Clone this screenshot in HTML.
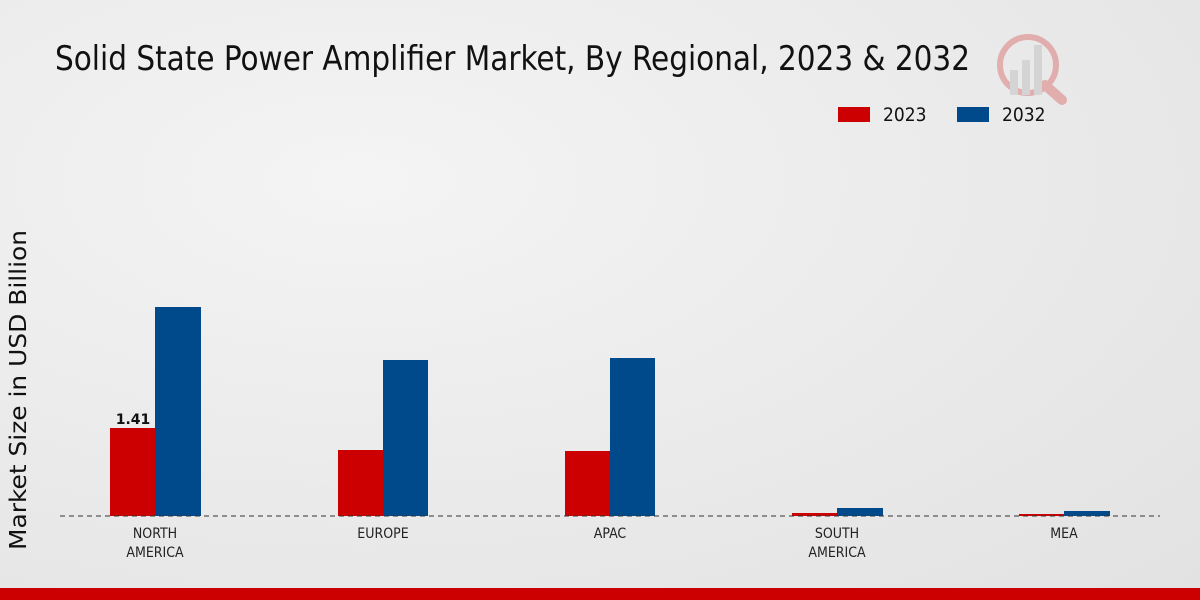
<!DOCTYPE html>
<html><head><style>
html,body{margin:0;padding:0;width:1200px;height:600px;overflow:hidden}
body{background:radial-gradient(ellipse at 30% 30%,#f4f4f4 0%,#e9e9e9 60%,#e2e2e2 100%);}
</style></head><body>
<svg width="1200" height="600" xmlns="http://www.w3.org/2000/svg" style="position:absolute;left:0;top:0">
<text x="55" y="70" font-family="DejaVu Sans Condensed, DejaVu Sans, sans-serif" font-size="34" fill="#111" textLength="915" lengthAdjust="spacingAndGlyphs">Solid State Power Amplifier Market, By Regional, 2023 &amp; 2032</text>
<g opacity="0.25">
<circle cx="1028" cy="65" r="28" fill="none" stroke="#c00" stroke-width="6"/>
<line x1="1045" y1="85" x2="1062" y2="100" stroke="#c00" stroke-width="10" stroke-linecap="round"/>
<rect x="1010" y="70" width="8" height="25" fill="#999"/>
<rect x="1022" y="60" width="8" height="35" fill="#999"/>
<rect x="1034" y="45" width="8" height="50" fill="#999"/>
</g>
<rect x="838" y="107" width="32" height="15" fill="#cc0000"/>
<text x="883" y="121" font-family="DejaVu Sans Condensed, DejaVu Sans, sans-serif" font-size="19" fill="#111">2023</text>
<rect x="957" y="107" width="32" height="15" fill="#004a8c"/>
<text x="1002" y="121" font-family="DejaVu Sans Condensed, DejaVu Sans, sans-serif" font-size="19" fill="#111">2032</text>
<text transform="translate(26,390) rotate(-90)" text-anchor="middle" font-family="DejaVu Sans, sans-serif" font-size="23" fill="#111" textLength="320" lengthAdjust="spacingAndGlyphs">Market Size in USD Billion</text>
<g fill="#cc0000">
<rect x="110" y="428" width="45" height="88"/>
<rect x="338" y="450" width="45" height="66"/>
<rect x="565" y="451" width="45" height="65"/>
<rect x="792" y="513" width="45" height="3"/>
<rect x="1019" y="514" width="45" height="2"/>
</g>
<g fill="#004a8c">
<rect x="155" y="307" width="46" height="209"/>
<rect x="383" y="360" width="45" height="156"/>
<rect x="610" y="358" width="45" height="158"/>
<rect x="837" y="508" width="46" height="8"/>
<rect x="1064" y="511" width="46" height="5"/>
</g>
<line x1="60" y1="516" x2="1160" y2="516" stroke="#333" stroke-width="1" stroke-dasharray="5,4"/>
<text x="133" y="424" text-anchor="middle" font-family="DejaVu Sans, sans-serif" font-weight="bold" font-size="14" fill="#111">1.41</text>
<g font-family="DejaVu Sans Condensed, DejaVu Sans, sans-serif" font-size="14" fill="#222" text-anchor="middle">
<text x="155" y="538">NORTH</text><text x="155" y="557">AMERICA</text>
<text x="383" y="538">EUROPE</text>
<text x="610" y="538">APAC</text>
<text x="837" y="538">SOUTH</text><text x="837" y="557">AMERICA</text>
<text x="1064" y="538">MEA</text>
</g>
<rect x="0" y="588" width="1200" height="12" fill="#cc0000"/>
</svg>
</body></html>
